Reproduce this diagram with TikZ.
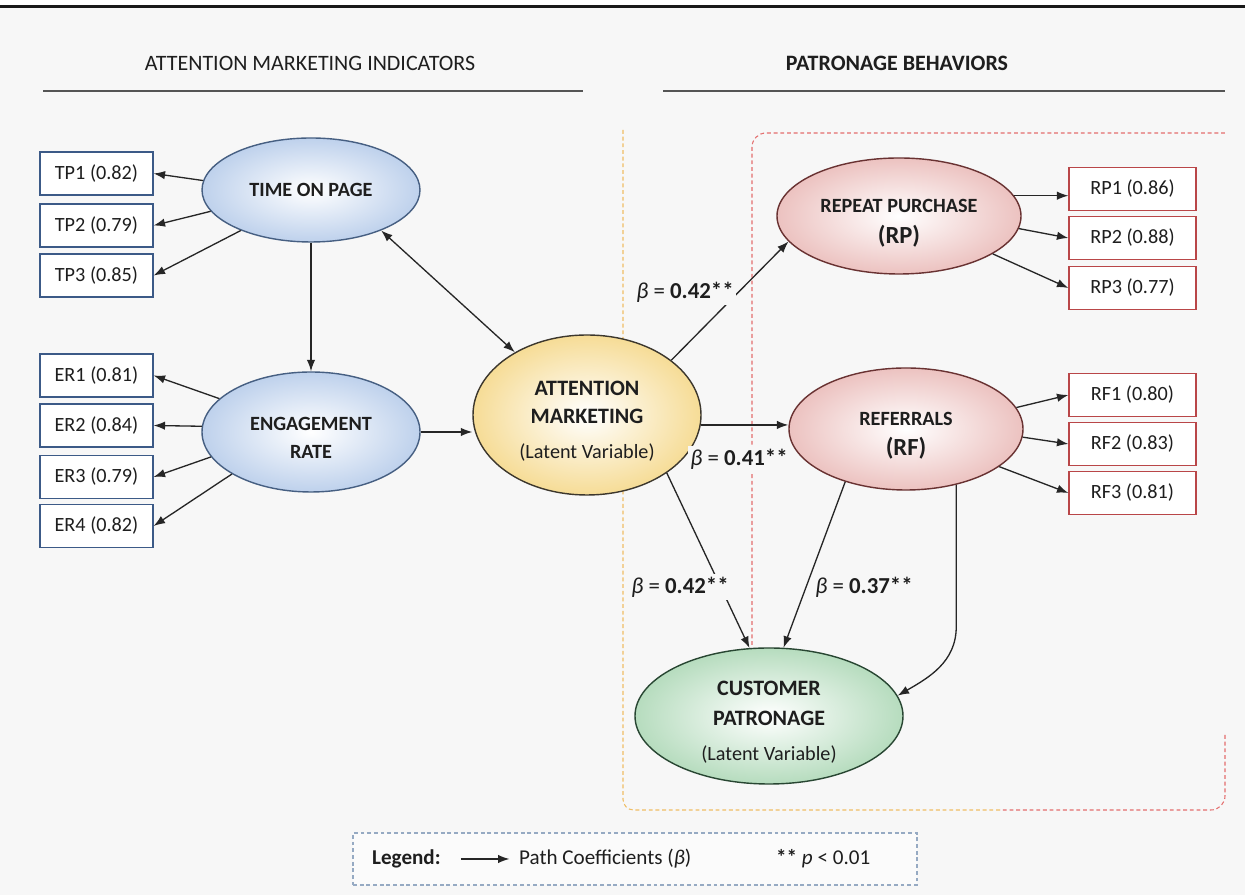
\documentclass[tikz,border=0pt]{standalone}
\usepackage{fontspec}
\setmainfont{Carlito}
\usetikzlibrary{shapes.geometric,arrows.meta}

\definecolor{bgcol}{RGB}{247,247,247}
\definecolor{txtcol}{RGB}{30,30,30}
\definecolor{blueline}{RGB}{70,95,130}
\definecolor{bluefill}{RGB}{190,209,236}
\definecolor{boxblue}{RGB}{60,90,135}
\definecolor{yellowfill}{RGB}{246,220,150}
\definecolor{amline}{RGB}{60,55,45}
\definecolor{pinkfill}{RGB}{236,194,192}
\definecolor{pinkline}{RGB}{105,50,50}
\definecolor{boxred}{RGB}{185,70,72}
\definecolor{greenfill}{RGB}{182,220,190}
\definecolor{greenline}{RGB}{40,70,50}
\definecolor{frameyellow}{RGB}{240,190,100}
\definecolor{framered}{RGB}{228,110,110}
\definecolor{legendline}{RGB}{150,170,195}
\definecolor{headline}{RGB}{85,85,85}

\newcommand\betaval[1]{\textit{β} = \textbf{#1**}}
\newcommand\toppad[1]{\rule{0pt}{#1}}

\begin{document}
\begin{tikzpicture}[
	latent/.style={ellipse, draw, line width=0.8pt, inner sep=0pt, align=center, text=txtcol, font=\bfseries\fontsize{11.5}{16}\selectfont},
	bluelv/.style={latent, draw=blueline, inner color=white, outer color=bluefill, minimum width=4.36cm},
	amlv/.style={latent, draw=amline, inner color=white, outer color=yellowfill, font=\bfseries\fontsize{12.5}{16}\selectfont},
	pinklv/.style={latent, draw=pinkline, inner color=white, outer color=pinkfill},
	greenlv/.style={latent, draw=greenline, inner color=white, outer color=greenfill, font=\bfseries\fontsize{12.5}{17}\selectfont},
	indbox/.style={draw, fill=white, line width=0.7pt, minimum height=0.86cm, inner sep=0pt, text=txtcol, font=\fontsize{11.5}{14}\selectfont},
	leftbox/.style={indbox, draw=boxblue, minimum width=2.26cm},
	rightbox/.style={indbox, draw=boxred, minimum width=2.54cm},
	path/.style={-{Latex[length=6.5pt,width=4.8pt]}, line width=0.75pt, draw=black!85},
	coef/.style={fill=bgcol, inner sep=1.5pt, text=txtcol, font=\fontsize{13}{15}\selectfont},
	frame/.style={dash pattern=on 2.2pt off 1.6pt, line width=0.6pt}
]
	%%%%% START %%%%%
	\useasboundingbox (0,0) rectangle (24.9,17.9);
	\fill[bgcol] (0,0) rectangle (24.9,17.77);
	\fill[white] (0,17.77) rectangle (24.9,17.9);
	\draw[line width=1.7pt, black!90] (0,17.77) -- (24.9,17.77);
	
	% headings
	\node[text=txtcol, font=\fontsize{12.5}{15}\selectfont] (lefthead) at (6.2,16.64) {ATTENTION MARKETING INDICATORS};
	\node[text=txtcol, font=\bfseries\fontsize{12.5}{15}\selectfont] (righthead) at (17.94,16.64) {PATRONAGE BEHAVIORS};
	\draw[headline, line width=0.9pt] (0.86,16.08) -- (11.66,16.08);
	\draw[headline, line width=0.9pt] (13.26,16.08) -- (24.5,16.08);
	
	% dashed frames
	\draw[frame, frameyellow, rounded corners=6pt] (12.46,15.3) -- (12.46,1.7) -- (20.0,1.7);
	\draw[frame, framered, rounded corners=8pt] (15.04,5.0) -- (15.04,15.24) -- (24.5,15.24);
	\draw[frame, framered, rounded corners=8pt] (24.5,3.2) -- (24.5,1.7) -- (20.0,1.7);
	
	% latent variables
	\node[bluelv, minimum height=2.08cm] (tp) at (6.22,14.1) {TIME ON PAGE};
	\node[bluelv, minimum height=2.4cm] (er) at (6.22,9.26) {\toppad{14pt}ENGAGEMENT\\RATE};
	\node[amlv, minimum width=4.56cm, minimum height=3.2cm] (am) at (11.74,9.6) {\toppad{15pt}ATTENTION\\MARKETING\\[4pt]{\mdseries\fontsize{11.5}{14}\selectfont(Latent Variable)}};
	\node[pinklv, minimum width=4.88cm, minimum height=2.32cm] (rp) at (17.98,13.58) {\toppad{16pt}REPEAT PURCHASE\\[2pt]{\fontsize{14}{16}\selectfont(RP)}};
	\node[pinklv, minimum width=4.68cm, minimum height=2.44cm] (rf) at (18.12,9.32) {\toppad{15pt}REFERRALS\\[1pt]{\fontsize{14}{16}\selectfont(RF)}};
	\node[greenlv, minimum width=5.36cm, minimum height=2.72cm] (cp) at (15.38,3.58) {\toppad{15pt}CUSTOMER\\PATRONAGE\\[3pt]{\mdseries\fontsize{11.5}{14}\selectfont(Latent Variable)}};
	
	% indicators
	\node[leftbox] (tp1) at (1.93,14.43) {TP1 (0.82)};
	\node[leftbox] (tp2) at (1.93,13.39) {TP2 (0.79)};
	\node[leftbox] (tp3) at (1.93,12.39) {TP3 (0.85)};
	\node[leftbox] (er1) at (1.93,10.39) {ER1 (0.81)};
	\node[leftbox] (er2) at (1.93,9.39) {ER2 (0.84)};
	\node[leftbox] (er3) at (1.93,8.36) {ER3 (0.79)};
	\node[leftbox] (er4) at (1.93,7.38) {ER4 (0.82)};
	
	\node[rightbox] (rp1) at (22.65,14.12) {RP1 (0.86)};
	\node[rightbox] (rp2) at (22.65,13.14) {RP2 (0.88)};
	\node[rightbox] (rp3) at (22.65,12.14) {RP3 (0.77)};
	\node[rightbox] (rf1) at (22.65,10.0) {RF1 (0.80)};
	\node[rightbox] (rf2) at (22.65,9.02) {RF2 (0.83)};
	\node[rightbox] (rf3) at (22.65,8.04) {RF3 (0.81)};
	
	% loadings
	\draw[path] (tp.175) -- (tp1.east);
	\draw[path] (tp.192) -- (tp2.east);
	\draw[path] (tp.210) -- (tp3.east);
	\draw[path] (er.160) -- (er1.east);
	\draw[path] (er.177) -- (er2.east);
	\draw[path] (er.194) -- (er3.east);
	\draw[path] (er.208) -- (er4.east);
	
	\draw[path] (rp.10) -- (rp.10 -| rp1.west);
	\draw[path] (rp.-6) -- (rp2.west);
	\draw[path] (rp.-22) -- (rp3.west);
	\draw[path] (rf.11) -- (rf1.west);
	\draw[path] (rf.-4) -- (rf2.west);
	\draw[path] (rf.-22) -- (rf3.west);
	
	% structural paths
	\draw[path] (tp.south) -- (er.north);
	\draw[path, {Latex[length=6.5pt,width=4.8pt]}-{Latex[length=6.5pt,width=4.8pt]}] (tp.-30) -- (am.139);
	\draw[path] (er.east) -- (er.east -| am.west);
	\draw[path] (am.33) -- (rp.193);
	\draw[path] (am.-5) -- (am.-5 -| rf.west);
	\draw[path] (am.-36) -- (cp.106);
	\draw[path] (rf.-139) -- (cp.78);
	\draw[path] (rf.-48) -- ++(0,-2.84) to[out=-90, in=30] (cp.9);
	
	\node[coef] (b1) at (13.7,12.06) {\betaval{0.42}};
	\node[coef] (b2) at (14.78,8.72) {\betaval{0.41}};
	\node[coef] (b3) at (13.6,6.16) {\betaval{0.42}};
	\node[coef] (b4) at (17.28,6.16) {\betaval{0.37}};
	
	% legend
	\node[draw=legendline, frame, fill=white!50!bgcol, minimum width=11.28cm, minimum height=1.04cm] (legendbox) at (12.7,0.72) {};
	\node[anchor=west, text=txtcol, font=\bfseries\fontsize{12}{14}\selectfont] (legendlbl) at (7.32,0.72) {Legend:};
	\node[anchor=west, text=txtcol, font=\fontsize{12}{14}\selectfont] (pathlbl) at (10.26,0.72) {Path Coefficients (\textit{β})};
	\node[anchor=west, text=txtcol, font=\fontsize{12}{14}\selectfont] (siglbl) at (15.4,0.72) {\textbf{**} \textit{p} < 0.01};
	\draw[path] ([xshift=8pt]legendlbl.east) -- ([xshift=-2pt]pathlbl.west);
	%%%%% END %%%%%
\end{tikzpicture}
\end{document}
